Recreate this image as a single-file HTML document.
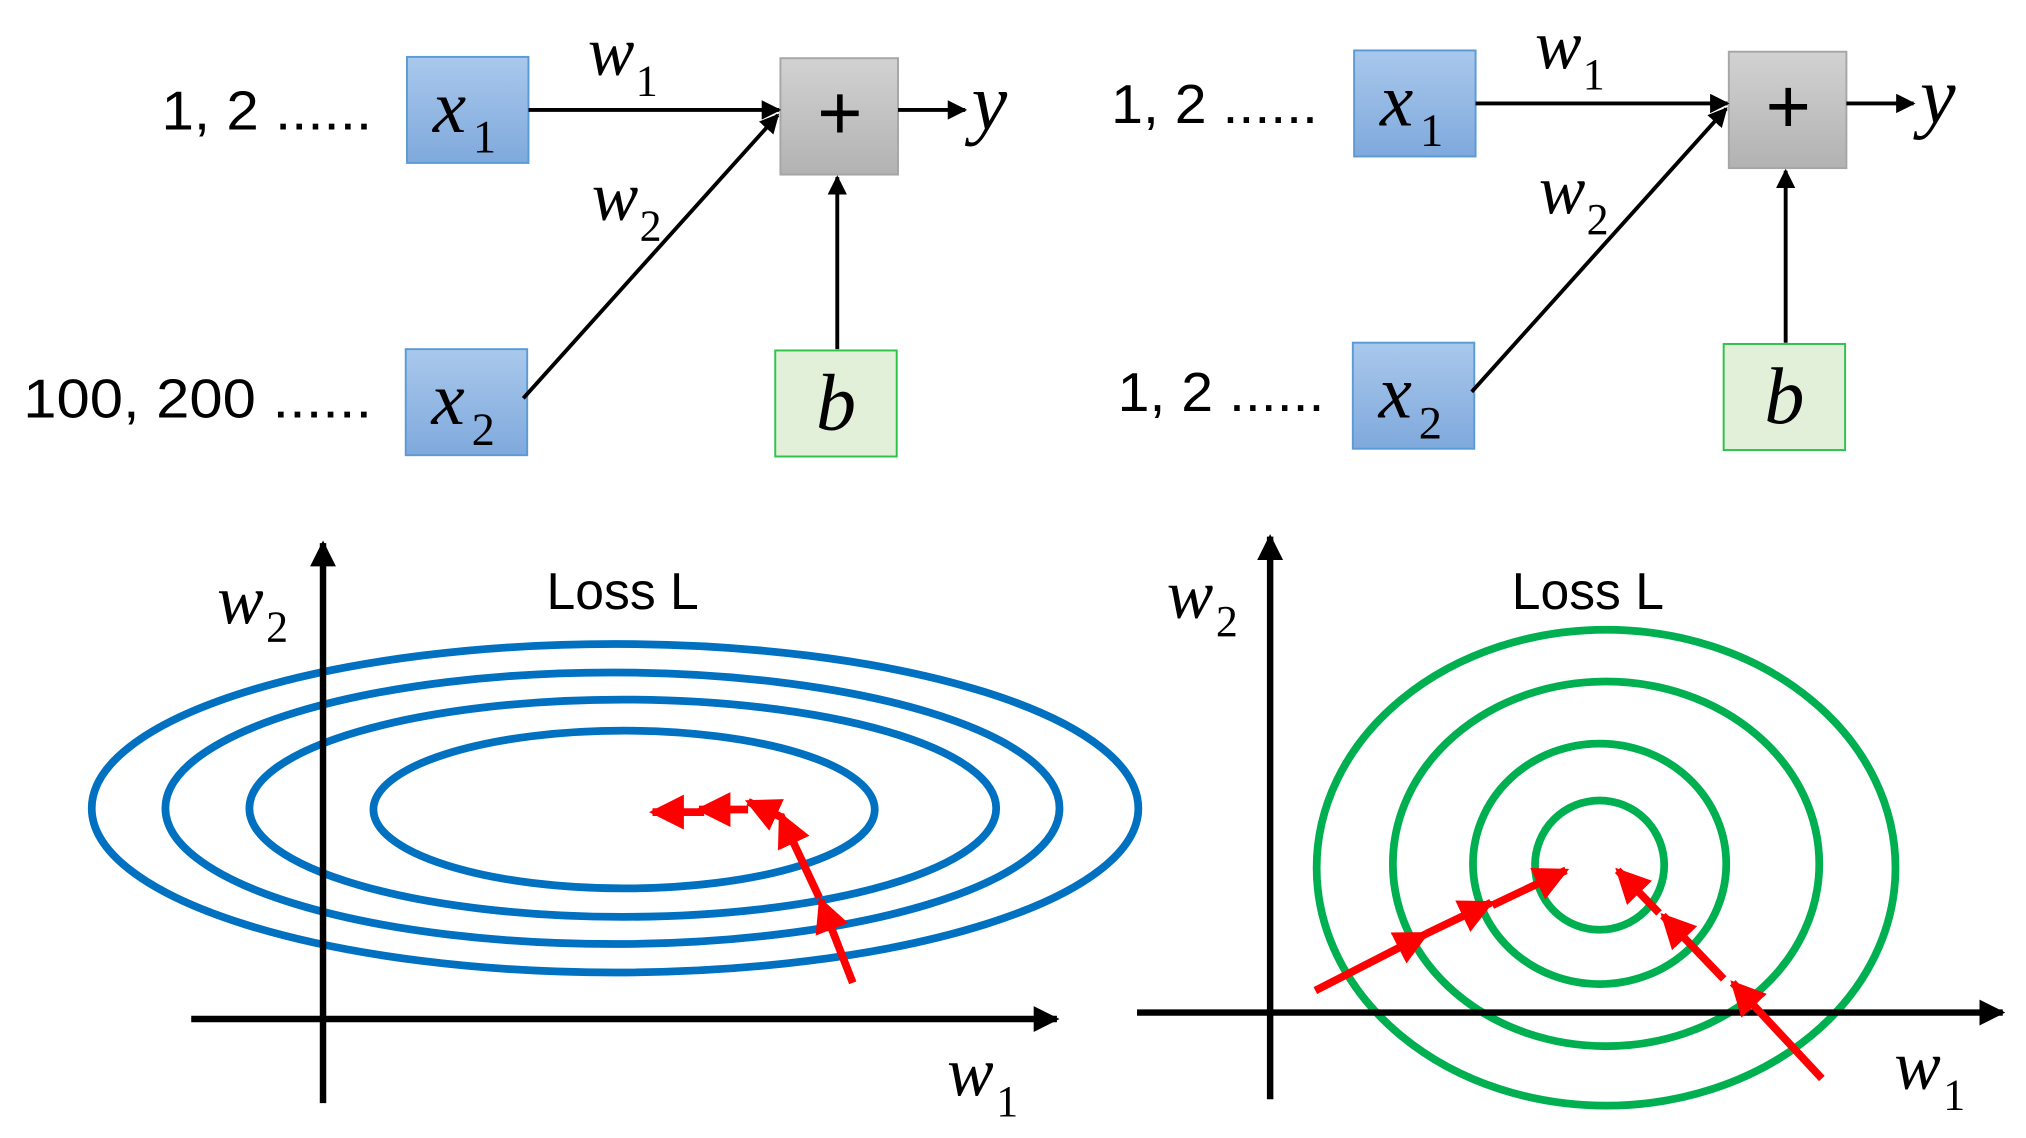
<!DOCTYPE html>
<html><head><meta charset="utf-8"><style>
html,body{margin:0;padding:0;background:#fff;}
svg{display:block;}
.s{font-family:"Liberation Sans","DejaVu Sans",sans-serif;}
.m{font-family:"Liberation Serif",serif;font-style:italic;}
.n{font-family:"Liberation Serif",serif;font-style:normal;}
</style></head><body>
<svg width="2026" height="1138" viewBox="0 0 1568 880" preserveAspectRatio="none" xmlns="http://www.w3.org/2000/svg">
<defs>
<linearGradient id="bl" x1="0" y1="0" x2="0" y2="1"><stop offset="0" stop-color="#a9c8ec"/><stop offset="1" stop-color="#7fa9dc"/></linearGradient>
<linearGradient id="gr" x1="0" y1="0" x2="0" y2="1"><stop offset="0" stop-color="#d2d2d2"/><stop offset="1" stop-color="#b2b2b2"/></linearGradient>
<marker id="ak" viewBox="0 0 10 10" refX="9" refY="5" markerWidth="5" markerHeight="5" orient="auto"><path d="M0,0L10,5L0,10z" fill="#000"/></marker>
<marker id="ab" viewBox="0 0 10 10" refX="9" refY="5" markerWidth="4" markerHeight="4" orient="auto"><path d="M0,0L10,5L0,10z" fill="#000"/></marker>
<marker id="ar" viewBox="0 0 10 10" refX="9" refY="5" markerWidth="4.5" markerHeight="4.5" orient="auto"><path d="M0,0L10,5L0,10z" fill="#f00"/></marker>
</defs>

<!-- top left -->
<g>
<text x="125" y="100" class="s" font-size="42" textLength="163" lengthAdjust="spacingAndGlyphs">1, 2 ......</text>
<text x="18" y="323" class="s" font-size="42" textLength="270" lengthAdjust="spacingAndGlyphs">100, 200 ......</text>
<rect x="315" y="44" width="94" height="82" fill="url(#bl)" stroke="#5b9bd5" stroke-width="1.5"/>
<text x="335" y="102" class="m" font-size="58">x</text><text x="366" y="118" class="n" font-size="36">1</text>
<rect x="314" y="270" width="94" height="82" fill="url(#bl)" stroke="#5b9bd5" stroke-width="1.5"/>
<text x="334" y="328" class="m" font-size="58">x</text><text x="365" y="344" class="n" font-size="36">2</text>
<rect x="604" y="45" width="91" height="90" fill="url(#gr)" stroke="#a6a6a6" stroke-width="1.5"/>
<text x="650" y="108" class="s" font-size="60" text-anchor="middle">+</text>
<rect x="600" y="271" width="94" height="82" fill="#e2f0d9" stroke="#2fc24a" stroke-width="1.5"/>
<text x="647" y="332" class="m" font-size="62" text-anchor="middle">b</text>
<line x1="409" y1="85" x2="603" y2="85" stroke="#000" stroke-width="3" marker-end="url(#ak)"/>
<line x1="405" y1="308" x2="602" y2="89" stroke="#000" stroke-width="3" marker-end="url(#ak)"/>
<line x1="695" y1="85" x2="747" y2="85" stroke="#000" stroke-width="3" marker-end="url(#ak)"/>
<line x1="648" y1="270" x2="648" y2="137" stroke="#000" stroke-width="3" marker-end="url(#ak)"/>
<text x="455" y="58" class="m" font-size="54">w</text><text x="492" y="74" class="n" font-size="34">1</text>
<text x="458" y="170" class="m" font-size="54">w</text><text x="495" y="186" class="n" font-size="34">2</text>
<text x="752" y="100" class="m" font-size="62">y</text>
</g>

<!-- top right -->
<g>
<text x="860" y="95" class="s" font-size="42" textLength="160" lengthAdjust="spacingAndGlyphs">1, 2 ......</text>
<text x="865" y="318" class="s" font-size="42" textLength="160" lengthAdjust="spacingAndGlyphs">1, 2 ......</text>
<rect x="1048" y="39" width="94" height="82" fill="url(#bl)" stroke="#5b9bd5" stroke-width="1.5"/>
<text x="1068" y="97" class="m" font-size="58">x</text><text x="1099" y="113" class="n" font-size="36">1</text>
<rect x="1047" y="265" width="94" height="82" fill="url(#bl)" stroke="#5b9bd5" stroke-width="1.5"/>
<text x="1067" y="323" class="m" font-size="58">x</text><text x="1098" y="339" class="n" font-size="36">2</text>
<rect x="1338" y="40" width="91" height="90" fill="url(#gr)" stroke="#a6a6a6" stroke-width="1.5"/>
<text x="1384" y="103" class="s" font-size="60" text-anchor="middle">+</text>
<rect x="1334" y="266" width="94" height="82" fill="#e2f0d9" stroke="#2fc24a" stroke-width="1.5"/>
<text x="1381" y="327" class="m" font-size="62" text-anchor="middle">b</text>
<line x1="1142" y1="80" x2="1337" y2="80" stroke="#000" stroke-width="3" marker-end="url(#ak)"/>
<line x1="1139" y1="303" x2="1336" y2="84" stroke="#000" stroke-width="3" marker-end="url(#ak)"/>
<line x1="1429" y1="80" x2="1481" y2="80" stroke="#000" stroke-width="3" marker-end="url(#ak)"/>
<line x1="1382" y1="265" x2="1382" y2="132" stroke="#000" stroke-width="3" marker-end="url(#ak)"/>
<text x="1188" y="53" class="m" font-size="54">w</text><text x="1225" y="69" class="n" font-size="34">1</text>
<text x="1191" y="165" class="m" font-size="54">w</text><text x="1228" y="181" class="n" font-size="34">2</text>
<text x="1486" y="95" class="m" font-size="62">y</text>
</g>

<!-- bottom left -->
<g>
<ellipse cx="476" cy="625" rx="405" ry="127" fill="none" stroke="#0070c0" stroke-width="6"/>
<ellipse cx="474" cy="625" rx="346" ry="105" fill="none" stroke="#0070c0" stroke-width="6"/>
<ellipse cx="482" cy="625" rx="289" ry="84" fill="none" stroke="#0070c0" stroke-width="6"/>
<ellipse cx="483" cy="626" rx="194" ry="61" fill="none" stroke="#0070c0" stroke-width="6"/>
<line x1="250" y1="853" x2="250" y2="420" stroke="#000" stroke-width="5" marker-end="url(#ab)"/>
<line x1="148" y1="788" x2="818" y2="788" stroke="#000" stroke-width="5" marker-end="url(#ab)"/>
<text x="168" y="482" class="m" font-size="54">w</text><text x="206" y="496" class="n" font-size="34">2</text>
<text x="733" y="847" class="m" font-size="54">w</text><text x="771" y="863" class="n" font-size="34">1</text>
<text x="423" y="471" class="s" font-size="40">Loss L</text>
<g stroke="#f00" stroke-width="6" fill="none">
<line x1="660" y1="760" x2="635" y2="696" marker-end="url(#ar)"/>
<line x1="634" y1="694" x2="604" y2="630" marker-end="url(#ar)"/>
<line x1="605" y1="632" x2="579" y2="620" marker-end="url(#ar)"/>
<line x1="579" y1="626" x2="541" y2="626" marker-end="url(#ar)"/>
<line x1="545" y1="628" x2="505" y2="628" marker-end="url(#ar)"/>
</g>
</g>

<!-- bottom right -->
<g>
<ellipse cx="1243" cy="671" rx="224" ry="184" fill="none" stroke="#00b050" stroke-width="6"/>
<ellipse cx="1243" cy="668" rx="165" ry="141" fill="none" stroke="#00b050" stroke-width="6"/>
<ellipse cx="1238" cy="668" rx="98" ry="93" fill="none" stroke="#00b050" stroke-width="6"/>
<ellipse cx="1238" cy="669" rx="50" ry="50" fill="none" stroke="#00b050" stroke-width="6"/>
<line x1="983" y1="850" x2="983" y2="415" stroke="#000" stroke-width="5" marker-end="url(#ab)"/>
<line x1="880" y1="783" x2="1550" y2="783" stroke="#000" stroke-width="5" marker-end="url(#ab)"/>
<text x="903" y="478" class="m" font-size="54">w</text><text x="941" y="492" class="n" font-size="34">2</text>
<text x="1466" y="842" class="m" font-size="54">w</text><text x="1504" y="858" class="n" font-size="34">1</text>
<text x="1170" y="471" class="s" font-size="40">Loss L</text>
<g stroke="#f00" stroke-width="6" fill="none">
<line x1="1018" y1="766" x2="1104" y2="722" marker-end="url(#ar)"/>
<line x1="1104" y1="722" x2="1154" y2="698" marker-end="url(#ar)"/>
<line x1="1155" y1="700" x2="1212" y2="673" marker-end="url(#ar)"/>
<line x1="1410" y1="834" x2="1341" y2="760" marker-end="url(#ar)"/>
<line x1="1334" y1="757" x2="1287" y2="708" marker-end="url(#ar)"/>
<line x1="1284" y1="706" x2="1252" y2="673" marker-end="url(#ar)"/>
</g>
</g>
</svg>
</body></html>
